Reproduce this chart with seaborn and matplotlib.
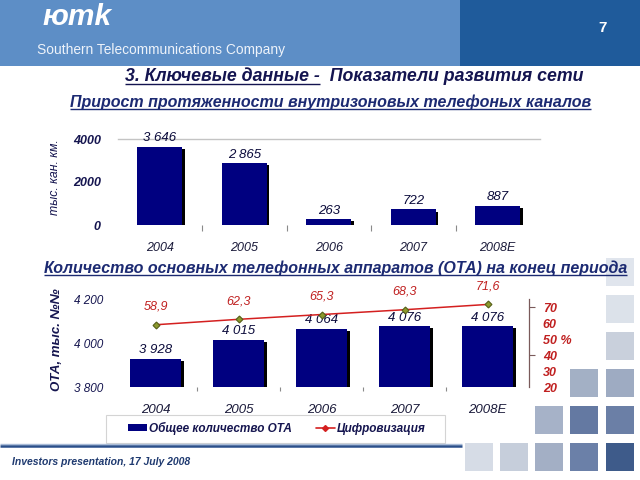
import numpy as np
import pandas as pd
import matplotlib
matplotlib.use('Agg')
import matplotlib.pyplot as plt
import seaborn as sns
from matplotlib.patches import Rectangle, Patch
from matplotlib.lines import Line2D
from matplotlib.font_manager import FontProperties
import matplotlib.patheffects as pe
from matplotlib.ticker import FixedLocator

# ---------------- data ----------------
years = ['2004', '2005', '2006', '2007', '2008E']
channels = [3646, 2865, 263, 722, 887]          # тыс. кан. км.
ota = [3928, 4015, 4064, 4076, 4076]            # ОТА, тыс.
digitization = [58.9, 62.3, 65.3, 68.3, 71.6]   # %
channels_ticks = [0, 2000, 4000]
ota_ticks = [3800, 4000, 4200]
pct_ticks = [20, 30, 40, 50, 60, 70]

title_main_ul = '3. Ключевые данные -'
title_main_rest = '  Показатели развития сети'
title_top = 'Прирост протяженности внутризоновых телефоных каналов'
title_bottom = 'Количество основных телефонных аппаратов (ОТА) на конец периода'
ylabel_top = 'тыс. кан. км.'
ylabel_bottom = 'ОТА, тыс. №№'
legend_labels = ['Общее количество ОТА', 'Цифровизация']
logo = 'юmk'
company = 'Southern Telecommunications Company'
footer = 'Investors presentation, 17 July 2008'
page = '7'

# ---------------- style ----------------
sns.set_style('white')
plt.rcParams['font.family'] = ['Liberation Sans', 'DejaVu Sans']

NAVY = '#000080'
RED = '#d42020'
LBL_RED = '#c02020'
TXT = '#15154f'

fig = plt.figure(figsize=(6.4, 4.8), dpi=100)
fig.patch.set_facecolor('white')

bg = fig.add_axes([0, 0, 1, 1])
bg.set_xlim(0, 640)
bg.set_ylim(480, 0)
bg.axis('off')


def px(l, t, r, b):
    return [l / 640, 1 - b / 480, (r - l) / 640, (b - t) / 480]


# ---------------- header ----------------
bg.add_patch(Rectangle((0, 0), 460, 66, color='#5d8ec6', lw=0))
bg.add_patch(Rectangle((460, 0), 180, 66, color='#1f5b9b', lw=0))
bg.text(42, 17, logo, color='white', fontsize=21.5, fontweight='bold',
        fontstyle='italic', va='center', ha='left')
bg.text(37, 50, company, color='#eef3fa', fontsize=9.9, va='center', ha='left')
bg.text(603, 28, page, color='white', fontsize=11, fontweight='bold',
        va='center', ha='center')

# ---------------- decorative squares ----------------
col_x = [606, 570, 535, 500, 465]
row_y = [258, 295, 332, 369, 406, 443]
squares = {
    (0, 0): '#e0e5ed', (0, 1): '#dce2ea', (0, 2): '#c9d0dc', (0, 3): '#9eabc2',
    (0, 4): '#6b7fa6', (0, 5): '#3e5b8a',
    (1, 3): '#a3b0c5', (1, 4): '#6479a2', (1, 5): '#6b80a8',
    (2, 4): '#a6b2c8', (2, 5): '#a3afc5',
    (3, 5): '#c6cedb', (4, 5): '#d6dce6',
}
for (c, r), col in squares.items():
    bg.add_patch(Rectangle((col_x[c], row_y[r]), 28, 28, color=col, lw=0))

# ---------------- footer ----------------
bg.plot([0, 462], [443.5, 443.5], color='#a9bcd8', lw=1.0, solid_capstyle='butt')
bg.plot([0, 462], [445.5, 445.5], color='#2a4f8a', lw=1.8, solid_capstyle='butt')
bg.text(12, 462, footer, color='#1f3a70', fontsize=7.5, fontweight='bold',
        fontstyle='italic', va='center', ha='left')

# ---------------- titles ----------------
tprops = dict(fontsize=12.8, fontweight='bold', fontstyle='italic', va='baseline', ha='left')
t_ul = bg.text(125, 81, title_main_ul, color='#141450', **tprops)
t_sub = bg.text(70, 106.5, title_top, color='#1c2a72', fontsize=11.55,
                fontweight='bold', fontstyle='italic', va='baseline', ha='left')
t_bot = bg.text(44, 272.5, title_bottom, color='#1c2a72', fontsize=11.5,
                fontweight='bold', fontstyle='italic', va='baseline', ha='left')

# legend frame
bg.add_patch(Rectangle((106, 415), 339, 28, fill=False, edgecolor='#d4d4d4', lw=0.8))

# ---------------- top chart ----------------
ax1 = fig.add_axes(px(117.5, 139, 540, 225))
df1 = pd.DataFrame({'year': years, 'value': channels})
sns.barplot(data=df1, x='year', y='value', ax=ax1, color=NAVY, saturation=1,
            width=0.53, edgecolor='none', errorbar=None)
shadow = [pe.SimplePatchShadow(offset=(2, -1.5), shadow_rgbFace='black', alpha=1), pe.Normal()]
for p in ax1.patches:
    p.set_path_effects(shadow)
ax1.set_ylim(0, 4000)
ax1.set_xlim(-0.5, len(years) - 0.5)
ax1.set_yticks(channels_ticks)
ax1.set_yticklabels([str(t) for t in channels_ticks], fontsize=9,
                    fontweight='bold', fontstyle='italic', color=TXT)
ax1.set_xticks(range(len(years)))
ax1.set_xticklabels(years, fontsize=9, fontstyle='italic', color='#1a1a3a')
ax1.tick_params(axis='both', which='major', length=0)
ax1.tick_params(axis='y', pad=12)
ax1.tick_params(axis='x', pad=12)
ax1.xaxis.set_minor_locator(FixedLocator([0.5, 1.5, 2.5, 3.5]))
ax1.tick_params(axis='x', which='minor', bottom=True, length=4, width=0.8,
                color='#8a8a8a', direction='out')
for s in ['left', 'right', 'bottom']:
    ax1.spines[s].set_visible(False)
ax1.spines['top'].set_color('#c4c4c4')
ax1.spines['top'].set_linewidth(1.0)
ax1.set_xlabel('')
ax1.set_ylabel(ylabel_top, fontsize=8.8, fontstyle='italic', color=TXT)
ax1.yaxis.set_label_coords((61 - 117.5) / 422.5, (225 - 177) / 86)
ax1.bar_label(ax1.containers[0],
              labels=[f'{v:,}'.replace(',', ' ') for v in channels],
              padding=2, fontsize=9.5, fontstyle='italic', color='#0a0a3a',
              clip_on=False)

# ---------------- bottom chart ----------------
ax3 = fig.add_axes(px(114, 299, 529, 387))
df2 = pd.DataFrame({'year': years, 'ota': ota, 'digit': digitization})
sns.barplot(data=df2, x='year', y='ota', ax=ax3, color=NAVY, saturation=1,
            width=0.62, edgecolor='none', errorbar=None)
for p in ax3.patches:
    p.set_path_effects(shadow)
ax3.set_ylim(3800, 4200)
ax3.set_xlim(-0.5, len(years) - 0.5)

ax2 = ax3.twinx()
sns.pointplot(data=df2, x='year', y='digit', ax=ax2, color=RED, markers='D',
              errorbar=None, linewidth=1.1, markersize=3.5)
for ln in ax2.lines:
    ln.set_markerfacecolor('#8c9a2c')
    ln.set_markeredgecolor('#56601a')
ax2.set_ylim(20, 75)
ax2.set_xlim(-0.5, len(years) - 0.5)

ax3.set_yticks(ota_ticks)
ax3.set_yticklabels([f'{t:,}'.replace(',', ' ') for t in ota_ticks], fontsize=8.5,
                    fontstyle='italic', color=TXT)
ax3.set_xticks(range(len(years)))
ax3.set_xticklabels(years, fontsize=9.5, fontstyle='italic', color='#1a1a3a')
ax3.tick_params(axis='both', which='major', length=0)
ax3.tick_params(axis='y', pad=8)
ax3.tick_params(axis='x', pad=12)
ax3.xaxis.set_minor_locator(FixedLocator([0.5, 1.5, 2.5, 3.5]))
ax3.tick_params(axis='x', which='minor', bottom=True, length=3, width=0.8,
                color='#8a8a8a', direction='out')
for s in ['left', 'right', 'bottom', 'top']:
    ax3.spines[s].set_visible(False)
ax3.set_xlabel('')
ax3.set_ylabel(ylabel_bottom, fontsize=9.5, fontweight='bold', fontstyle='italic', color=TXT)
ax3.yaxis.set_label_coords((63 - 114) / 415, (387 - 340) / 88)
ax3.bar_label(ax3.containers[0],
              labels=[f'{v:,}'.replace(',', ' ') for v in ota],
              padding=2, fontsize=9.5, fontstyle='italic', color='#0a0a3a',
              clip_on=False)

ax2.set_yticks(pct_ticks)
ax2.set_yticklabels([f'{t} %' if t == 50 else str(t) for t in pct_ticks],
                    fontsize=9, fontweight='bold', fontstyle='italic', color=LBL_RED)
ax2.yaxis.remove_overlapping_locs = False
ax2.tick_params(axis='y', which='major', length=0, pad=10, right=True, left=False)
ax2.yaxis.set_minor_locator(FixedLocator([40, 70]))
ax2.tick_params(axis='y', which='minor', right=True, left=False, length=4,
                width=0.8, color='#7a5a5a', direction='out')
for s in ['left', 'bottom', 'top']:
    ax2.spines[s].set_visible(False)
ax2.spines['right'].set_visible(True)
ax2.spines['right'].set_color('#7a5a5a')
ax2.spines['right'].set_linewidth(0.9)
ax2.set_ylabel('')
ax2.set_xlabel('')
for i, v in enumerate(digitization):
    ax2.annotate(f'{v:.1f}'.replace('.', ','), (i, v), xytext=(0, 13),
                 textcoords='offset points', ha='center', va='center',
                 fontsize=9, fontstyle='italic', color=LBL_RED)

handles = [Patch(facecolor=NAVY, edgecolor='none'),
           Line2D([], [], color=RED, lw=1.2, marker='D', markersize=3,
                  markerfacecolor=RED, markeredgecolor=RED)]
leg = ax2.legend(handles, legend_labels, loc='center',
                 bbox_to_anchor=(277 / 640, 1 - 428 / 480), bbox_transform=fig.transFigure,
                 ncol=2, frameon=False, handlelength=1.6, handleheight=0.6,
                 handletextpad=0.2, columnspacing=2.0,
                 prop=FontProperties(family=['Liberation Sans', 'DejaVu Sans'],
                                     weight='bold', style='italic', size=8.5))
for t in leg.get_texts():
    t.set_color(TXT)

# ---------------- title layout and underlines ----------------
fig.canvas.draw()
renderer = fig.canvas.get_renderer()
inv = bg.transData.inverted()


def extent(t):
    bb = t.get_window_extent(renderer)
    (x0, _), (x1, _) = inv.transform([[bb.x0, bb.y0], [bb.x1, bb.y1]])
    return x0, x1


x0, x1 = extent(t_ul)
bg.text(x1, 81, title_main_rest, color='#141450', **tprops)
for t, col in [(t_ul, '#141450'), (t_sub, '#1c2a72'), (t_bot, '#1c2a72')]:
    a, b = extent(t)
    y = t.get_position()[1] + 2.5
    bg.plot([a, b], [y, y], color=col, lw=1.0, solid_capstyle='butt')

fig.savefig('out.png', dpi=100, facecolor='white')
